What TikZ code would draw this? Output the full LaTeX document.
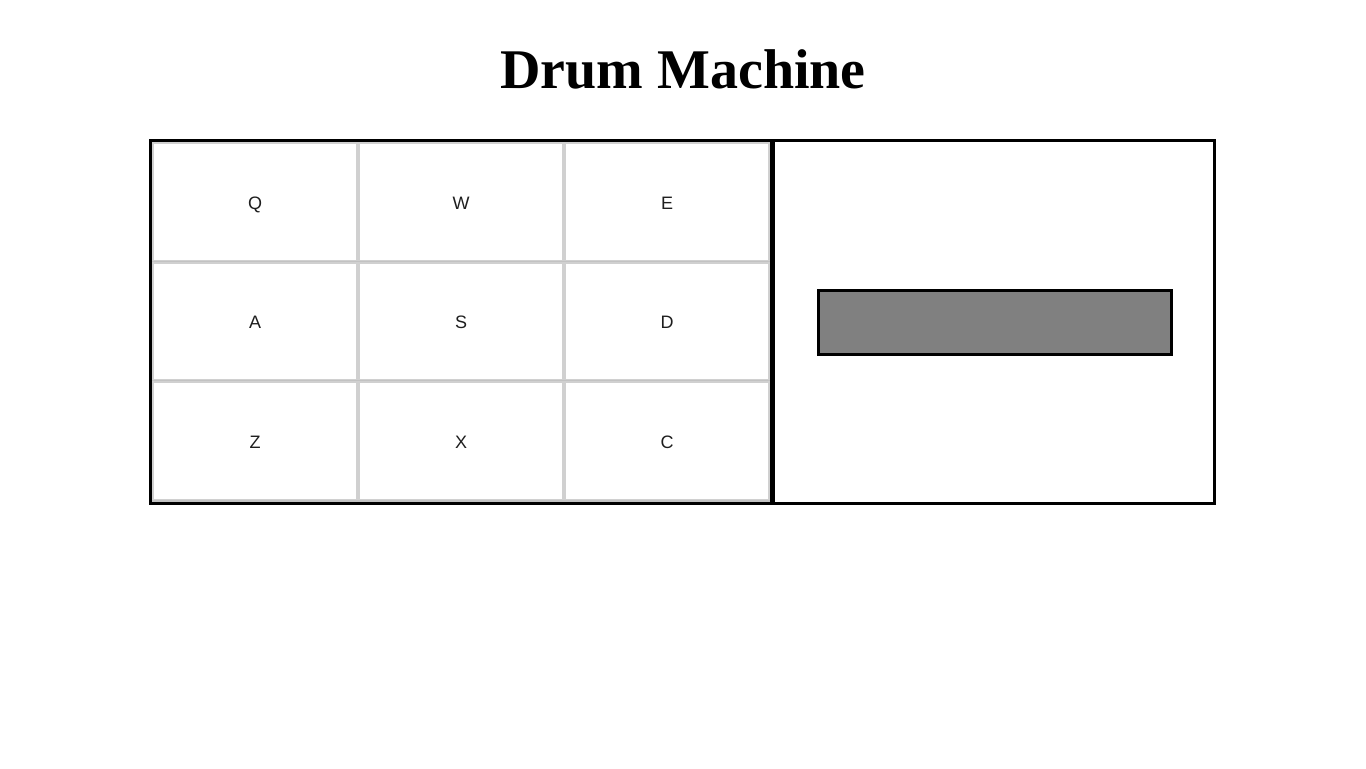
\documentclass[tikz,border=0pt]{standalone}
\usepackage{fontspec}
\setmainfont{Liberation Serif}
\newfontfamily\keyfont{Liberation Sans}
\definecolor{cellgray}{HTML}{D0D0D0}
\definecolor{cellgraydark}{HTML}{C2C2C2}
\definecolor{dispgray}{HTML}{808080}
\definecolor{keytext}{HTML}{1E1E1E}
\begin{document}
\begin{tikzpicture}[x=0.75pt,y=-0.75pt,
  padcell/.style={draw=cellgray,fill=white,line width=1.5pt,
    minimum width=153pt,minimum height=88.3pt,inner sep=0pt},
  padlabel/.style={font=\keyfont\fontsize{13.5}{15}\selectfont,text=keytext,inner sep=0pt},
  padbottom/.style={draw=cellgraydark,line width=1.5pt},
  frame/.style={draw=black,line width=2.25pt}]
\useasboundingbox[fill=white] (0,0) rectangle (1366,768);
% title
\node[anchor=base,font=\bfseries\fontsize{42}{48}\selectfont] (title) at (683,88) {Drum Machine};
% pads
\foreach \k/\cx/\cy in {Q/255/201.8,W/461/201.8,E/667/201.8,
                        A/255/321.5,S/461/321.5,D/667/321.5,
                        Z/255/441.2,X/461/441.2,C/667/441.2}{
  \node[padcell] (pad\k) at (\cx,\cy) {};
  \draw[padbottom] ([xshift=-0.75pt]pad\k.south west) -- ([xshift=0.75pt]pad\k.south east);
  \node[padlabel,anchor=base] (lbl\k) at ([yshift=-5.6pt]pad\k.center) {\k};
}
% outer frame and divider
\draw[frame] (150.5,140.5) rectangle (1214.5,503.5);
\fill[black] (770,140) rectangle (775,504);
% display
\node[draw=black,line width=2.25pt,fill=dispgray,minimum width=264.75pt,
  minimum height=48pt,inner sep=0pt] (display) at (995,322.5) {};
\end{tikzpicture}
\end{document}
